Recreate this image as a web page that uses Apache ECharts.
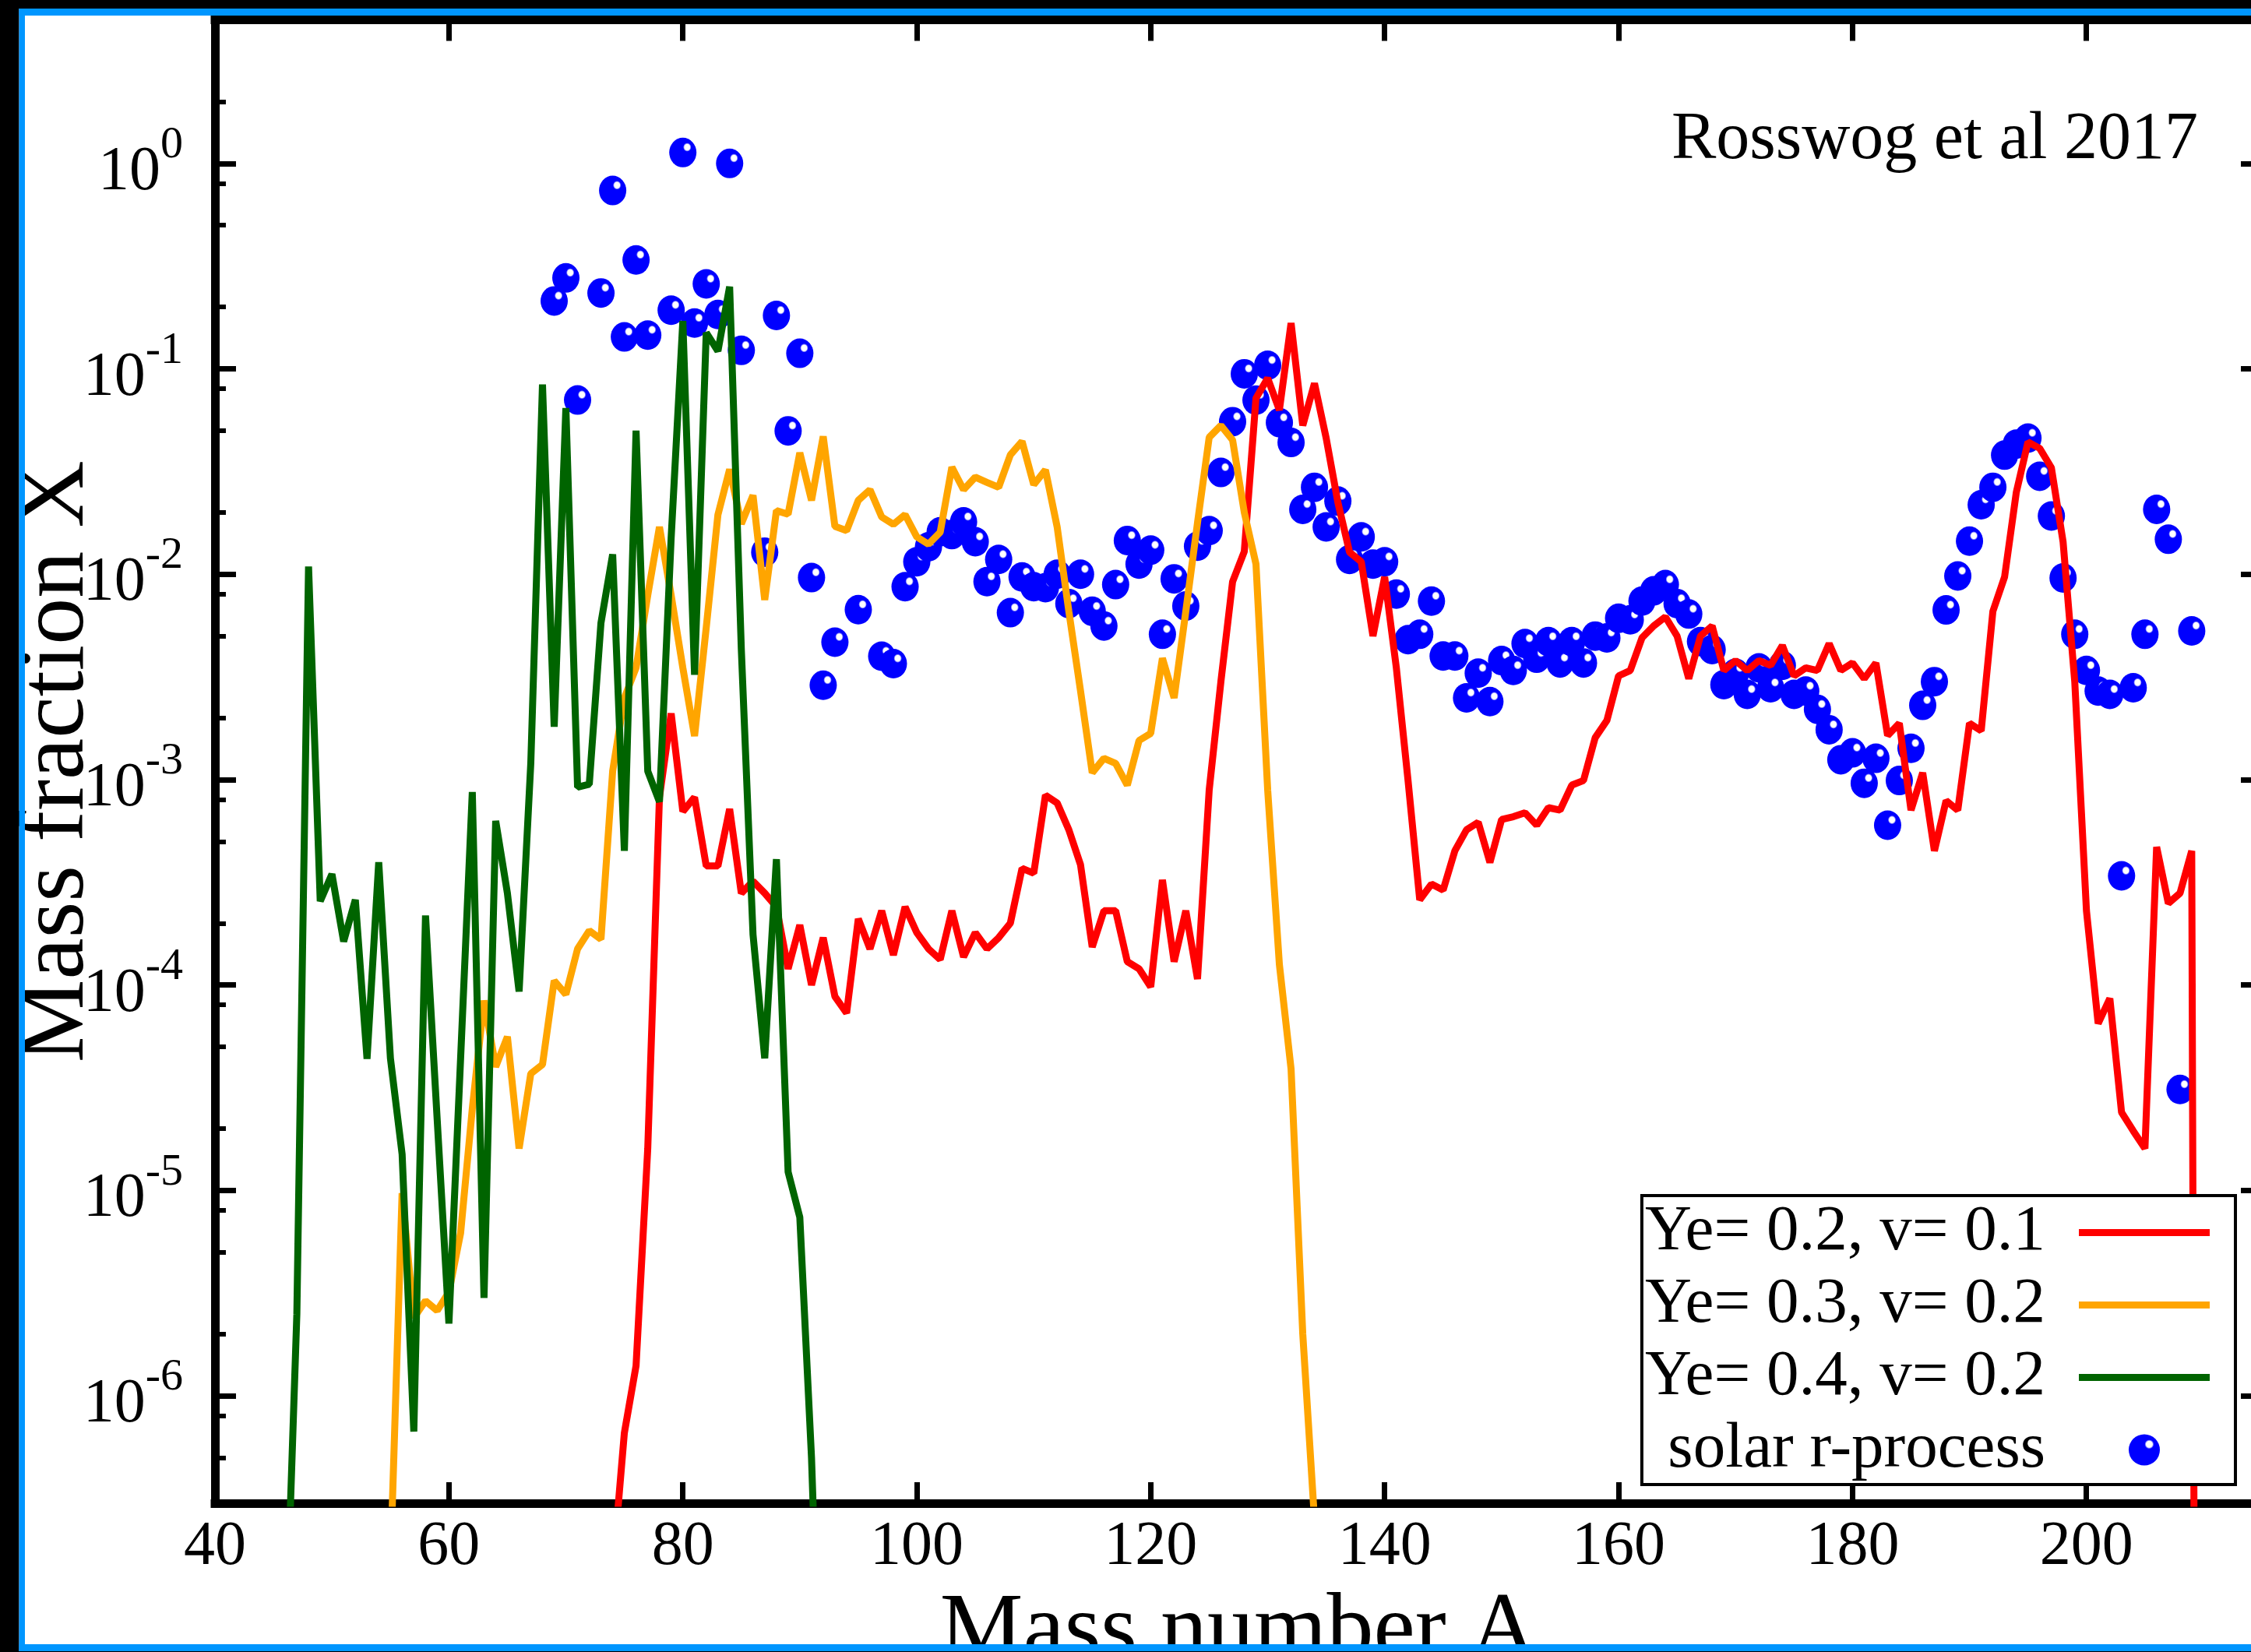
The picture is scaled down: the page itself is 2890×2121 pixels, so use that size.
<!DOCTYPE html>
<html><head><meta charset="utf-8">
<script src="https://cdn.jsdelivr.net/npm/echarts@6/dist/echarts.min.js"></script>
<style>html,body{margin:0;padding:0;background:#000;} #c{width:2890px;height:2121px;}</style>
</head><body><div id="c"></div>
<script>
// ---------- data ----------
const seriesNames = ['Ye= 0.2, v= 0.1', 'Ye= 0.3, v= 0.2', 'Ye= 0.4, v= 0.2', 'solar r-process'];
const xTicks = [40, 60, 80, 100, 120, 140, 160, 180, 200];
const yTicks = [1e-6, 1e-5, 1e-4, 1e-3, 1e-2, 1e-1, 1];
const yMinorTicks = [5e-7, 8e-7, 2e-6, 5e-6, 8e-6, 2e-5, 5e-5, 8e-5, 2e-4, 5e-4, 8e-4,
  2e-3, 5e-3, 8e-3, 2e-2, 5e-2, 8e-2, 0.2, 0.5, 0.8, 2];

// Ye=0.2, v=0.1 : A = 74 .. 210
const redStartA = 74;
const redX = [1.4e-7, 6.6e-7, 1.4e-6, 1.6e-5, 8.2e-4, 2.1e-3, 7.0e-4, 8.2e-4, 3.8e-4, 3.8e-4,
  7.2e-4, 2.8e-4, 3.2e-4, 2.8e-4, 2.4e-4, 1.2e-4, 1.96e-4, 1.0e-4, 1.7e-4, 8.8e-5,
  7.3e-5, 2.1e-4, 1.5e-4, 2.3e-4, 1.4e-4, 2.4e-4, 1.8e-4, 1.5e-4, 1.33e-4, 2.3e-4,
  1.37e-4, 1.8e-4, 1.5e-4, 1.7e-4, 2.0e-4, 3.7e-4, 3.5e-4, 8.4e-4, 7.7e-4, 5.7e-4,
  3.85e-4, 1.53e-4, 2.3e-4, 2.3e-4, 1.3e-4, 1.2e-4, 9.8e-5, 3.25e-4, 1.3e-4, 2.3e-4,
  1.07e-4, 8.9e-4, 3.0e-3, 9.2e-3, 0.0129, 0.072, 0.09, 0.063, 0.167, 0.053,
  0.085, 0.046, 0.0224, 0.0128, 0.0115, 5.0e-3, 9.7e-3, 3.5e-3, 9.9e-4, 2.6e-4,
  3.1e-4, 2.9e-4, 4.5e-4, 5.7e-4, 6.2e-4, 3.95e-4, 6.4e-4, 6.6e-4, 6.9e-4, 6.0e-4,
  7.3e-4, 7.1e-4, 9.4e-4, 9.9e-4, 1.6e-3, 1.94e-3, 3.2e-3, 3.4e-3, 4.9e-3, 5.6e-3,
  6.2e-3, 5.0e-3, 3.1e-3, 5.0e-3, 5.6e-3, 3.4e-3, 3.8e-3, 3.4e-3, 3.8e-3, 3.6e-3,
  4.5e-3, 3.2e-3, 3.5e-3, 3.4e-3, 4.6e-3, 3.4e-3, 3.7e-3, 3.1e-3, 3.7e-3, 1.64e-3,
  1.88e-3, 7.1e-4, 1.08e-3, 4.5e-4, 7.9e-4, 7.1e-4, 1.88e-3, 1.73e-3, 6.6e-3, 9.7e-3,
  0.025, 0.044, 0.041, 0.033, 0.0144, 3.0e-3, 2.3e-4, 6.5e-5, 8.6e-5, 2.4e-5,
  1.95e-5, 1.6e-5, 4.7e-4, 2.5e-4, 2.8e-4, 4.5e-4, 1e-20];

// Ye=0.3, v=0.2 : A = 55 .. 134
const orangeStartA = 55;
const orangeX = [1.5e-7, 9.7e-6, 2.4e-6, 2.9e-6, 2.6e-6, 3.2e-6, 6.2e-6, 2.5e-5, 8.4e-5, 4.0e-5,
  5.6e-5, 1.6e-5, 3.7e-5, 4.1e-5, 1.05e-4, 9.0e-5, 1.5e-4, 1.84e-4, 1.67e-4, 1.1e-3,
  2.5e-3, 3.5e-3, 7.9e-3, 0.017, 7.9e-3, 3.5e-3, 1.63e-3, 5.5e-3, 0.0195, 0.0324,
  0.0176, 0.0242, 7.5e-3, 0.0204, 0.0196, 0.039, 0.0229, 0.0469, 0.0171, 0.0163,
  0.0229, 0.0258, 0.019, 0.0175, 0.0195, 0.0152, 0.014, 0.016, 0.0332, 0.0258,
  0.0297, 0.028, 0.0265, 0.0381, 0.0443, 0.0273, 0.0322, 0.017, 6.6e-3, 2.7e-3,
  1.08e-3, 1.27e-3, 1.2e-3, 9.4e-4, 1.55e-3, 1.68e-3, 3.9e-3, 2.5e-3, 6.6e-3, 0.0178,
  0.0464, 0.053, 0.045, 0.02, 0.0112, 8.9e-4, 1.26e-4, 3.9e-5, 2.0e-6, 2.5e-7];

// Ye=0.4, v=0.2 : A = 46 .. 92
const greenStartA = 46;
const greenX = [5e-8, 2.5e-6, 0.0109, 2.56e-4, 3.47e-4, 1.63e-4, 2.6e-4, 4.37e-5, 3.96e-4, 4.4e-5,
  1.5e-5, 6.7e-7, 2.18e-4, 2.2e-5, 2.25e-6, 4.4e-5, 8.7e-4, 3.0e-6, 6.3e-4, 2.8e-4,
  9.3e-5, 1.2e-3, 0.0839, 1.81e-3, 0.0644, 9.2e-4, 9.5e-4, 5.8e-3, 0.0125, 4.5e-4,
  0.05, 1.1e-3, 7.8e-4, 0.015, 0.171, 3.24e-3, 0.150, 0.122, 0.251, 4.3e-3,
  1.76e-4, 4.4e-5, 4.1e-4, 1.23e-5, 7.4e-6, 5e-7, 1e-8];

// solar r-process
const solarA = [69, 70, 71, 73, 74, 75, 76, 77, 79, 80, 81, 82, 83, 84, 85, 87, 88, 89, 90, 91,
  92, 93, 95, 97, 98, 99, 100, 101, 102, 103, 104, 105, 106, 107, 108, 109, 110, 111, 112, 113,
  114, 115, 116, 117, 118, 119, 120, 121, 122, 123, 124, 125, 126, 127, 128, 129, 130, 131, 132, 133,
  134, 135, 136, 137, 138, 139, 140, 141, 142, 143, 144, 145, 146, 147, 148, 149, 150, 151, 152, 153,
  154, 155, 156, 157, 158, 159, 160, 161, 162, 163, 164, 165, 166, 167, 168, 169, 170, 171, 172, 173,
  174, 175, 176, 177, 178, 179, 180, 181, 182, 183, 184, 185, 186, 187, 188, 189, 190, 191, 192, 193,
  194, 195, 196, 197, 198, 199, 200, 201, 202, 203, 204, 205, 206, 207, 208, 209];
const solarX = [0.214, 0.277, 0.0705, 0.234, 0.738, 0.143, 0.339, 0.146, 0.193, 1.13, 0.167, 0.259, 0.184, 1.0, 0.123, 0.0128, 0.182, 0.0499, 0.119, 0.00963,
  0.00288, 0.00467, 0.00672, 0.00399, 0.00367, 0.0087, 0.0115, 0.0136, 0.0161, 0.0156, 0.018, 0.0144, 0.0092, 0.0118, 0.0065, 0.0097, 0.0087, 0.0086, 0.01, 0.0072,
  0.01, 0.0066, 0.0056, 0.0089, 0.0146, 0.0112, 0.0131, 0.0051, 0.0095, 0.007, 0.0137, 0.0163, 0.0313, 0.0553, 0.0946, 0.0704, 0.104, 0.0547, 0.0438, 0.0207,
  0.0265, 0.017, 0.0227, 0.0118, 0.0152, 0.0112, 0.0115, 0.008, 0.0048, 0.0051, 0.0074, 0.004, 0.004, 0.0025, 0.0033, 0.0024, 0.0038, 0.0034, 0.0046, 0.0039,
  0.0047, 0.0037, 0.0047, 0.0037, 0.005, 0.0049, 0.0061, 0.006, 0.0074, 0.0083, 0.0089, 0.0072, 0.0064, 0.0047, 0.0043, 0.0029, 0.0033, 0.0026, 0.0035, 0.0028,
  0.0036, 0.0026, 0.0027, 0.0022, 0.00175, 0.00125, 0.00135, 0.00096, 0.00127, 0.0006, 0.00099, 0.00142, 0.0023, 0.003, 0.0067, 0.0098, 0.0145, 0.0218, 0.0265, 0.038,
  0.043, 0.046, 0.030, 0.0192, 0.0096, 0.0051, 0.0034, 0.0027, 0.0026, 0.00034, 0.0028, 0.0051, 0.0207, 0.0148, 3.1e-5, 0.0053];

// ---------- build ----------
const F = "'Liberation Serif','Times New Roman',serif";
const seq = (a0, arr) => arr.map((v, i) => [a0 + i, v]);
const redData = seq(redStartA, redX);
const orangeData = seq(orangeStartA, orangeX);
const greenData = seq(greenStartA, greenX);
const solarData = solarA.map((a, i) => [a, solarX[i]]);

const axisLine = {show: true, onZero: false, lineStyle: {color: '#000', width: 11, cap: 'square'}};
const majorTick = (vals) => ({show: true, inside: true, length: 27, lineStyle: {color: '#000', width: 7}, customValues: vals});
const minorTick = {show: true, inside: true, length: 14, lineStyle: {color: '#000', width: 6}, customValues: yMinorTicks};
const lineIcon = 'path://M0,0L168,0L168,9L0,9Z';
const ballColor = {type: 'radial', x: 0.66, y: 0.32, r: 0.22,
  colorStops: [{offset: 0, color: '#ffffff'}, {offset: 0.45, color: '#ffffff'}, {offset: 0.68, color: '#0000ff'}, {offset: 1, color: '#0000ff'}]};

const yBase = {type: 'log', logBase: 10, min: 3e-7, max: 5, splitLine: {show: false}, gridIndex: 0};

const option = {
  animation: false,
  backgroundColor: '#ffffff',
  grid: {left: 276, top: 25.5, width: 2628, height: 1904.5, containLabel: false, outerBoundsMode: 'none'},
  xAxis: [
    {type: 'value', min: 40, max: 215, position: 'bottom', axisLine: axisLine, axisTick: majorTick(xTicks),
     axisLabel: {show: true, customValues: xTicks, fontSize: 80, fontFamily: F, color: '#000', margin: 17},
     splitLine: {show: false},
     name: 'Mass number A', nameLocation: 'middle', nameGap: 106, nameMoveOverlap: false,
     nameTextStyle: {fontSize: 120, fontFamily: F, color: '#000'}},
    {type: 'value', min: 40, max: 215, position: 'top', axisLine: axisLine, axisTick: majorTick(xTicks),
     axisLabel: {show: false}, splitLine: {show: false}}
  ],
  yAxis: [
    Object.assign({}, yBase, {position: 'left', axisLine: axisLine, axisTick: majorTick(yTicks),
      axisLabel: {show: true, customValues: yTicks, margin: 41,
        formatter: function (v) { return '{b|10}{s|' + Math.round(Math.log10(v)) + '}'; },
        rich: {
          b: {fontSize: 80, fontFamily: F, color: '#000', verticalAlign: 'bottom'},
          s: {fontSize: 58, fontFamily: F, color: '#000', verticalAlign: 'bottom', padding: [0, 0, 46, 0]}
        }},
      name: 'Mass fraction X', nameLocation: 'middle', nameGap: 142, nameMoveOverlap: false,
      nameTextStyle: {fontSize: 120, fontFamily: F, color: '#000'}}),
    Object.assign({}, yBase, {position: 'left', axisLine: {show: false}, axisTick: minorTick, axisLabel: {show: false}}),
    Object.assign({}, yBase, {position: 'right', axisLine: axisLine, axisTick: majorTick(yTicks), axisLabel: {show: false}}),
    Object.assign({}, yBase, {position: 'right', axisLine: {show: false}, axisTick: minorTick, axisLabel: {show: false}})
  ],
  legend: {
    show: true, orient: 'vertical', right: 20, top: 1535, align: 'right',
    itemWidth: 168, itemHeight: 40, itemGap: 10,
    backgroundColor: '#ffffff', borderColor: '#000', borderWidth: 4, borderRadius: 0,
    padding: [6, 33, 3, 4], selectedMode: false,
    textStyle: {fontFamily: F, fontSize: 83, color: '#000', padding: [0, 38, 0, 0]},
    data: [
      {name: seriesNames[0], icon: lineIcon},
      {name: seriesNames[1], icon: lineIcon},
      {name: seriesNames[2], icon: lineIcon},
      {name: seriesNames[3]}
    ]
  },
  series: [
    {type: 'scatter', name: seriesNames[3], xAxisIndex: 0, yAxisIndex: 0, data: solarData,
     symbol: 'circle', symbolSize: [35, 38], itemStyle: {color: ballColor, opacity: 1}, clip: true},
    {type: 'line', name: seriesNames[0], xAxisIndex: 0, yAxisIndex: 0, data: redData, symbol: 'none',
     lineStyle: {color: '#ff0000', width: 9}, itemStyle: {color: '#ff0000'}, clip: true},
    {type: 'line', name: seriesNames[1], xAxisIndex: 0, yAxisIndex: 0, data: orangeData, symbol: 'none',
     lineStyle: {color: '#ffa500', width: 9}, itemStyle: {color: '#ffa500'}, clip: true},
    {type: 'line', name: seriesNames[2], xAxisIndex: 0, yAxisIndex: 0, data: greenData, symbol: 'none',
     lineStyle: {color: '#006400', width: 9}, itemStyle: {color: '#006400'}, clip: true}
  ],
  graphic: {elements: [
    {type: 'text', z: 50, style: {text: 'Rosswog et al 2017', x: 2822, y: 180, align: 'right', verticalAlign: 'middle',
      fontSize: 86, fontFamily: F, fill: '#000'}},
    {type: 'rect', z: 100, silent: true, shape: {x: 0, y: 0, width: 24.5, height: 2121}, style: {fill: '#000'}},
    {type: 'rect', z: 100, silent: true, shape: {x: 0, y: 0, width: 2890, height: 11}, style: {fill: '#000'}},
    {type: 'rect', z: 100, silent: true, shape: {x: 24.5, y: 11, width: 7.5, height: 2110}, style: {fill: '#0096ff'}},
    {type: 'rect', z: 100, silent: true, shape: {x: 24.5, y: 11, width: 2865.5, height: 9}, style: {fill: '#0096ff'}},
    {type: 'rect', z: 100, silent: true, shape: {x: 24.5, y: 2111, width: 2865.5, height: 9}, style: {fill: '#0096ff'}},
    {type: 'rect', z: 100, silent: true, shape: {x: 0, y: 2120, width: 2890, height: 1}, style: {fill: '#000'}}
  ]}
};

const chart = echarts.init(document.getElementById('c'), null, {renderer: 'canvas'});
chart.setOption(option);
</script></body></html>
